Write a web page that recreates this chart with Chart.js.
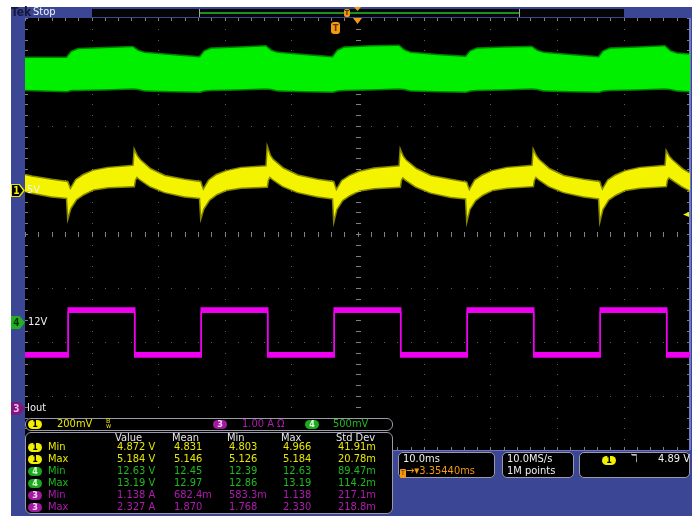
<!DOCTYPE html>
<html>
<head>
<meta charset="utf-8">
<script src="https://cdn.jsdelivr.net/npm/chart.js@4.4.1/dist/chart.umd.min.js"></script>
<style>
  body { margin: 0; background: #fff; width: 697px; height: 516px; overflow: hidden; position: relative;
         font-family: "DejaVu Sans Condensed", "Liberation Sans Narrow", "DejaVu Sans", sans-serif; font-stretch: condensed; font-size: 11px; }
  #frame { position: absolute; left: 11px; top: 7px; width: 681px; height: 509px; background: #3b4795; }
  #scope { position: absolute; left: 0; top: 0; }
  .a { position: absolute; white-space: nowrap; line-height: 12px; }
  .box { position: absolute; background: #000; border: 1px solid #9a9aa8; border-radius: 5px; box-sizing: border-box; }
  .pill { position: absolute; width: 14px; height: 9px; border-radius: 5px; font-size: 9px; line-height: 9px; text-align: center; font-weight: bold; }
  .flag { position: absolute; left: 11px; width: 14px; height: 13px; clip-path: polygon(0 0, 62% 0, 100% 50%, 62% 100%, 0 100%); }
  .flagtxt { position: absolute; left: 12px; width: 9px; text-align: center; font-size: 10px; line-height: 13px; font-weight: bold; }
  .lbl { color: #f0f0f0; }
</style>
</head>
<body>
<div id="frame"></div>
<canvas id="scope" width="697" height="516"></canvas>

<!-- top status bar -->
<div class="a" style="left:11px;top:6px;font-weight:bold;color:#14163a;font-size:12px;">Tek</div>
<div class="a" style="left:33px;top:6px;color:#f4f4f4;">Stop</div>
<div class="a" style="left:92px;top:9px;width:532px;height:8px;background:#050505;"></div>
<div class="a" style="left:199px;top:9px;width:1px;height:8px;background:#a0a0a0;"></div>
<div class="a" style="left:519px;top:9px;width:1px;height:8px;background:#a0a0a0;"></div>
<div class="a" style="left:200px;top:12px;width:319px;height:2px;background:#1f8f1f;"></div>
<div class="a" style="left:344px;top:9px;width:6px;height:8px;background:#f39a12;border-radius:2px;color:#5a2b00;font-size:7px;line-height:8px;text-align:center;font-weight:bold;">T</div>
<div class="a" style="left:354px;top:7px;width:7px;height:4px;background:#f39a12;clip-path:polygon(0 0,100% 0,50% 100%);"></div>

<!-- trigger markers in graticule -->
<div class="a" style="left:331px;top:22px;width:9px;height:12px;background:#f39a12;border-radius:3px;color:#6a3200;font-size:9px;line-height:12px;text-align:center;font-weight:bold;">T</div>
<div class="a" style="left:353px;top:18px;width:9px;height:6px;background:#f39a12;clip-path:polygon(0 0,100% 0,50% 100%);"></div>
<div class="a" style="left:683px;top:212px;width:6px;height:5px;background:#f0f000;clip-path:polygon(0 50%,100% 0,100% 100%);"></div>

<!-- channel markers -->
<div class="flag" style="top:184px;background:#e6e600;"></div>
<div class="flag" style="top:185px;left:12px;width:11px;height:11px;background:#000;"></div>
<div class="flagtxt" style="top:184px;color:#f0f000;">1</div>
<div class="a lbl" style="left:27px;top:184px;">5V</div>

<div class="flag" style="top:316px;background:#22b022;"></div>
<div class="flagtxt" style="top:316px;color:#063006;">4</div>
<div class="a lbl" style="left:28px;top:316px;">12V</div>

<div class="flag" style="top:402px;background:#7c1a7c;"></div>
<div class="flagtxt" style="top:402px;color:#f4b4f4;">3</div>
<div class="a lbl" style="left:27px;top:402px;">Iout</div>

<!-- bottom panels -->
<div class="a" style="left:393px;top:450px;width:297px;height:1px;background:#6b77bd;"></div>
<div class="box" style="left:25px;top:418px;width:368px;height:13px;border-radius:6px;"></div>
<div class="box" id="meas" style="left:25px;top:432px;width:368px;height:82px;border-radius:6px;"></div>
<div class="box" style="left:398px;top:452px;width:97px;height:26px;"></div>
<div class="box" style="left:502px;top:452px;width:72px;height:26px;"></div>
<div class="box" style="left:579px;top:452px;width:111px;height:26px;"></div>
<div id="overlay"></div>

<script>
// ---- traces (x in ms from left edge, y in graticule divisions from centre) ----
const yelT = [0, 1.0, 4.0, 6.35,
  6.5, 6.8, 7.7, 8.8, 10.3, 12.5, 16.35,  16.5, 16.8, 17.25, 18.8, 21.0, 24.0, 26.35,
  26.5, 26.8, 27.7, 28.8, 30.3, 32.5, 36.35,  36.5, 36.8, 37.25, 38.8, 41.0, 44.0, 46.35,
  46.5, 46.8, 47.7, 48.8, 50.3, 52.5, 56.35,  56.5, 56.8, 57.25, 58.8, 61.0, 64.0, 66.35,
  66.5, 66.8, 67.7, 68.8, 70.3, 72.5, 76.35,  76.5, 76.8, 77.25, 78.8, 81.0, 84.0, 86.35,
  86.5, 86.8, 87.7, 88.8, 90.3, 92.5, 96.35,  96.5, 96.8, 97.25, 98.8, 100];
const yelTop = [1.09, 1.06, 1.00, 0.96,
  0.91, 0.81, 1.00, 1.09, 1.17, 1.22, 1.26,  1.52, 1.44, 1.37, 1.20, 1.07, 1.00, 0.96,
  0.90, 0.80, 0.99, 1.09, 1.16, 1.22, 1.25,  1.56, 1.45, 1.37, 1.21, 1.08, 1.00, 0.96,
  0.90, 0.79, 0.98, 1.07, 1.15, 1.21, 1.25,  1.52, 1.43, 1.36, 1.20, 1.07, 1.00, 0.95,
  0.89, 0.79, 0.99, 1.08, 1.16, 1.22, 1.26,  1.52, 1.44, 1.37, 1.20, 1.07, 1.00, 0.96,
  0.90, 0.80, 0.99, 1.08, 1.16, 1.22, 1.26,  1.50, 1.43, 1.37, 1.20, 1.11];
const yelBot = [0.80, 0.77, 0.70, 0.67,
  0.35, 0.48, 0.65, 0.74, 0.83, 0.87, 0.89,  1.00, 1.07, 1.02, 0.89, 0.78, 0.70, 0.67,
  0.35, 0.47, 0.64, 0.74, 0.82, 0.86, 0.88,  1.00, 1.07, 1.02, 0.89, 0.78, 0.70, 0.66,
  0.31, 0.46, 0.63, 0.72, 0.81, 0.85, 0.88,  1.00, 1.06, 1.01, 0.88, 0.77, 0.69, 0.66,
  0.31, 0.46, 0.63, 0.73, 0.82, 0.86, 0.89,  1.00, 1.07, 1.02, 0.89, 0.78, 0.70, 0.66,
  0.31, 0.46, 0.64, 0.73, 0.82, 0.86, 0.89,  1.00, 1.06, 1.02, 0.89, 0.81];

const grnT = [0, 6.3,
  7.0, 8.0, 12.0, 16.2, 17.0, 18.0, 22.0, 26.3,
  27.0, 28.0, 32.0, 36.2, 37.0, 38.0, 42.0, 46.3,
  47.0, 48.0, 52.0, 56.2, 57.0, 58.0, 62.0, 66.3,
  67.0, 68.0, 72.0, 76.2, 77.0, 78.0, 82.0, 86.3,
  87.0, 88.0, 92.0, 96.2, 97.0, 98.0, 100];
const grnTop = [3.26, 3.26,
  3.37, 3.42, 3.44, 3.46, 3.39, 3.35, 3.31, 3.27,
  3.38, 3.43, 3.45, 3.47, 3.39, 3.35, 3.31, 3.27,
  3.39, 3.45, 3.47, 3.48, 3.40, 3.35, 3.31, 3.28,
  3.38, 3.43, 3.45, 3.46, 3.39, 3.35, 3.31, 3.27,
  3.38, 3.43, 3.45, 3.47, 3.38, 3.34, 3.32];
const grnBot = [2.67, 2.65,
  2.67, 2.67, 2.68, 2.70, 2.69, 2.66, 2.65, 2.64,
  2.66, 2.67, 2.68, 2.70, 2.69, 2.66, 2.65, 2.64,
  2.66, 2.67, 2.68, 2.70, 2.69, 2.66, 2.65, 2.64,
  2.66, 2.67, 2.68, 2.70, 2.69, 2.66, 2.65, 2.64,
  2.66, 2.67, 2.68, 2.70, 2.69, 2.66, 2.65];

const magT   = [0, 6.5, 16.5, 26.5, 36.5, 46.5, 56.5, 66.5, 76.5, 86.5, 96.5, 100];
const magTop = [-2.20, -1.37, -2.20, -1.37, -2.20, -1.37, -2.20, -1.37, -2.20, -1.37, -2.20, -2.20];
const magBot = [-2.28, -1.45, -2.28, -1.45, -2.28, -1.45, -2.28, -1.45, -2.28, -1.45, -2.28, -2.28];

// ---- readouts ----
const measHead = ['Value', 'Mean', 'Min', 'Max', 'Std Dev'];
const measCh   = ['1', '1', '4', '4', '3', '3'];
const measName = ['Min', 'Max', 'Min', 'Max', 'Min', 'Max'];
const measVals = [
  ['4.872 V', '4.831', '4.803', '4.966', '41.91m'],
  ['5.184 V', '5.146', '5.126', '5.184', '20.78m'],
  ['12.63 V', '12.45', '12.39', '12.63', '89.47m'],
  ['13.19 V', '12.97', '12.86', '13.19', '114.2m'],
  ['1.138 A', '682.4m', '583.3m', '1.138', '217.1m'],
  ['2.327 A', '1.870', '1.768', '2.330', '218.8m'],
];
const chText = { '1': '#e8e800', '4': '#1fba1f', '3': '#b01cb0' };
const chPill = { '1': ['#f0f000', '#000'], '4': ['#1fa81f', '#d8ffd8'], '3': ['#a01aa0', '#ffd0ff'] };

const ov = document.getElementById('overlay');
function put(html, x, y, color, extra = '') {
  const d = document.createElement('div');
  d.className = 'a';
  d.style.cssText = `left:${x}px;top:${y}px;color:${color};${extra}`;
  d.innerHTML = html;
  ov.appendChild(d);
  return d;
}
function pill(ch, x, y) {
  const d = put(ch, x, y, chPill[ch][1]);
  d.className = 'pill';
  d.style.background = chPill[ch][0];
}

// channel settings bar
pill('1', 28, 420);
put('200mV', 57, 418, chText['1']);
put('<span style="font-size:7px;line-height:5px;display:inline-block;">B<br>w</span>', 106, 419, chText['1']);
pill('3', 213, 420);
put('1.00 A Ω', 242, 418, chText['3']);
pill('4', 305, 420);
put('500mV', 333, 418, chText['4']);

// measurement table
const colX = [117, 174, 229, 283, 338];
measHead.forEach((h, i) => put(h, colX[i] - 2, 432, '#e6e6e6'));
measVals.forEach((row, r) => {
  const y = 441 + r * 12;
  const ch = measCh[r];
  pill(ch, 28, y + 2);
  put(measName[r], 48, y, chText[ch]);
  row.forEach((v, i) => put(v, colX[i], y, chText[ch]));
});

// horizontal / acquisition / trigger readouts
put('10.0ms', 403, 453, '#f0f0f0');
put('<span style="display:inline-block;width:6px;height:9px;background:#f39a12;color:#5a2b00;font-size:7px;line-height:9px;text-align:center;border-radius:1px;vertical-align:-1px;">T</span>→▾3.35440ms', 400, 465, '#f39a12');
put('10.0MS/s', 507, 453, '#f0f0f0');
put('1M points', 507, 465, '#f0f0f0');
pill('1', 602, 456);
put('ℸ', 631, 453, '#f0f0f0');
put('4.89 V', 658, 453, '#f0f0f0');

// ---- chart ----
const pts = (t, v) => t.map((x, i) => ({ x, y: v[i] }));

const graticule = {
  id: 'graticule',
  beforeDatasetsDraw(chart) {
    const { ctx, chartArea: a, scales: { x, y } } = chart;
    ctx.save();
    ctx.fillStyle = '#000';
    ctx.fillRect(a.left, a.top, a.right - a.left, a.bottom - a.top);
    const px = v => Math.round(x.getPixelForValue(v));
    const py = v => Math.round(y.getPixelForValue(v));
    ctx.fillStyle = '#5e5e5e';
    for (let i = 1; i < 10; i++)
      for (let j = 0; j <= 40; j++) ctx.fillRect(px(i * 10), py(-4 + j * 0.2), 1, 1);
    for (let i = -3; i <= 3; i++)
      for (let j = 0; j <= 50; j++) ctx.fillRect(px(j * 2), py(i), 1, 1);
    // centre crosshair + edge ticks
    ctx.fillStyle = '#808080';
    for (let j = 0; j <= 40; j++) {
      const yy = py(-4 + j * 0.2);
      ctx.fillRect(px(50) - 2, yy, 5, 1);
      ctx.fillRect(a.left, yy, 3, 1);
      ctx.fillRect(a.right - 3, yy, 3, 1);
    }
    for (let j = 0; j <= 50; j++) {
      const xx = px(j * 2);
      ctx.fillRect(xx, py(0) - 2, 1, 5);
      ctx.fillRect(xx, a.top, 1, 3);
      ctx.fillRect(xx, a.bottom - 3, 1, 3);
    }
    ctx.fillStyle = '#6f7cc4';
    ctx.fillRect(a.right - 1, a.top, 2, a.bottom - a.top);
    ctx.restore();
  }
};

new Chart(document.getElementById('scope').getContext('2d'), {
  type: 'line',
  data: {
    datasets: [
      { data: pts(grnT, grnTop), borderColor: 'rgba(0,235,0,0.55)', borderWidth: 3, backgroundColor: '#00f000', fill: '+1' },
      { data: pts(grnT, grnBot), borderColor: 'rgba(0,235,0,0.55)', borderWidth: 3, fill: false },
      { data: pts(yelT, yelTop), borderColor: 'rgba(245,245,0,0.55)', borderWidth: 3, backgroundColor: '#f4f400', fill: '+1' },
      { data: pts(yelT, yelBot), borderColor: 'rgba(245,245,0,0.55)', borderWidth: 3, fill: false },
      { data: pts(magT, magTop), borderColor: '#f000f0', borderWidth: 1.5, backgroundColor: '#f000f0', fill: '+1', stepped: true },
      { data: pts(magT, magBot), borderColor: '#f000f0', borderWidth: 1.5, fill: false, stepped: true },
    ],
  },
  options: {
    responsive: false,
    animation: false,
    events: [],
    layout: { padding: { left: 25, top: 18, right: 7, bottom: 66 } },
    plugins: { legend: { display: false }, tooltip: { enabled: false } },
    scales: {
      x: { type: 'linear', min: 0, max: 100, display: false },
      y: { type: 'linear', min: -4, max: 4, display: false },
    },
    elements: { point: { radius: 0 }, line: { tension: 0 } },
  },
  plugins: [graticule],
});
</script>
</body>
</html>
